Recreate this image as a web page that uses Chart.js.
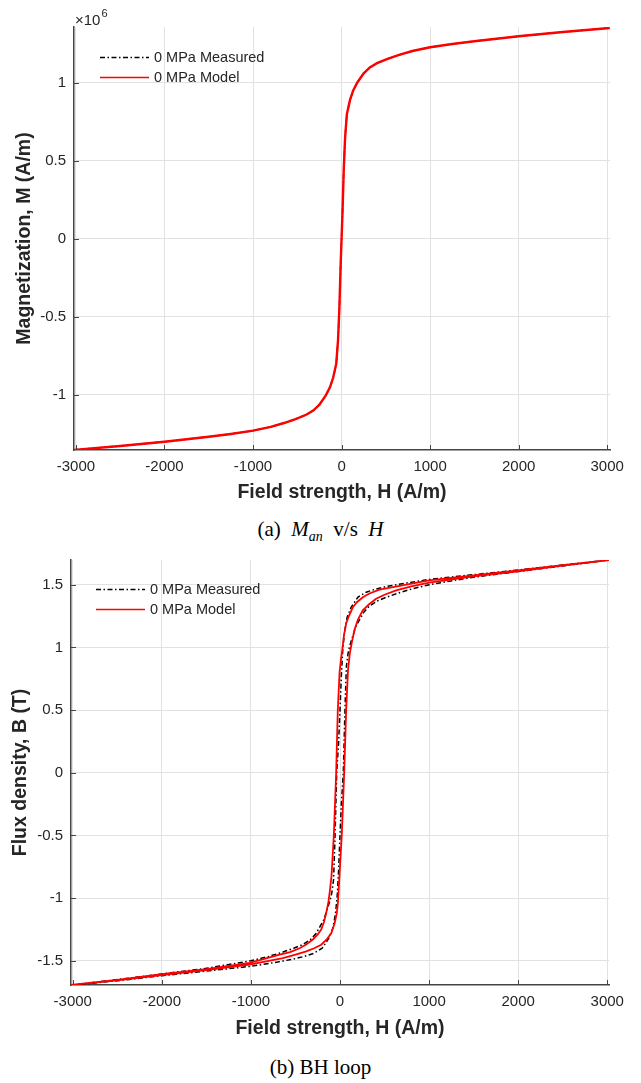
<!DOCTYPE html>
<html>
<head>
<meta charset="utf-8">
<script src="https://cdn.jsdelivr.net/npm/chart.js@4.4.1/dist/chart.umd.min.js"></script>
<style>
  body { margin: 0; background: #fff; }
  #page { position: relative; width: 641px; height: 1083px; }
  canvas { position: absolute; left: 0; }
  .caption { position: absolute; left: 0; width: 641px; text-align: center; line-height: 26px;
             font-family: "Liberation Serif", "DejaVu Serif", serif; font-size: 21px; color: #000; }
  .caption i sub { font-size: 14px; }
</style>
</head>
<body>
<div id="page">
  <canvas id="manChart" width="641" height="510" style="top:0"></canvas>
  <div class="caption" style="top:516px">(a) &nbsp;<i>M<sub>an</sub></i> &nbsp;v/s &nbsp;<i>H</i></div>
  <canvas id="bhChart" width="641" height="505" style="top:540px"></canvas>
  <div class="caption" style="top:1054px">(b) BH loop</div>
</div>
<script>
// ---- (a) anhysteretic magnetisation, M in units of 10^6 A/m
const manH = [-3030, -2500, -2000, -1500, -1250, -1000, -800, -650, -520, -400, -320, -250, -180, -130, -95, -60, -40, -25, -10, 0,
              10, 25, 40, 60, 95, 130, 180, 250, 320, 400, 520, 650, 800, 1000, 1250, 1500, 2000, 2500, 3030];
const manModel = [-1.353, -1.327, -1.30, -1.268, -1.25, -1.229, -1.205, -1.18, -1.155, -1.127, -1.10, -1.062, -1.005, -0.95, -0.89, -0.80, -0.65, -0.45, -0.16, 0,
                  0.16, 0.45, 0.65, 0.80, 0.89, 0.95, 1.005, 1.062, 1.10, 1.127, 1.155, 1.18, 1.205, 1.229, 1.25, 1.268, 1.30, 1.327, 1.353];
const manMeasured = manModel; // hidden under the model curve in the figure
const manTicksY = [-1, -0.5, 0, 0.5, 1];

// ---- (b) BH loop, descending branch (from +Hmax) and ascending branch (from -Hmax)
const modelDownH = [3025, 2500, 2000, 1500, 1000, 700, 443, 330, 256, 190, 144, 100, 69, 45, 25, 10, -5, -25, -43, -69, -95, -115, -130, -155, -180, -211, -250, -305, -380, -454, -560, -678, -850, -1015, -1500, -2000, -2500, -3025];
const modelDownB = [1.697, 1.655, 1.615, 1.575, 1.534, 1.494, 1.46, 1.43, 1.40, 1.36, 1.32, 1.25, 1.19, 1.10, 0.977, 0.90, 0.80, 0.494, 0, -0.494, -0.82, -0.95, -1.03, -1.12, -1.19, -1.25, -1.29, -1.33, -1.37, -1.40, -1.43, -1.45, -1.485, -1.517, -1.567, -1.607, -1.652, -1.693];
const modelUpH = [-3025, -2500, -2000, -1500, -1015, -800, -641, -500, -379, -290, -211, -150, -99, -60, -36, -25, -12, 0, 20, 47, 69, 90, 110, 130, 163, 200, 256, 320, 405, 500, 630, 800, 1003, 1500, 2000, 2500, 3025];
const modelUpB = [-1.693, -1.655, -1.615, -1.575, -1.531, -1.50, -1.478, -1.45, -1.425, -1.40, -1.372, -1.33, -1.28, -1.20, -1.12, -1.05, -0.90, -0.75, -0.494, 0, 0.494, 0.82, 0.95, 1.03, 1.14, 1.22, 1.295, 1.34, 1.388, 1.42, 1.455, 1.487, 1.516, 1.567, 1.607, 1.652, 1.697];

const measDownH = [3025, 2500, 2000, 1500, 1000, 700, 518, 400, 294, 200, 125, 80, 50, 30, 15, 0, -15, -37, -50, -60, -72, -90, -105, -130, -180, -219, -267, -330, -417, -520, -641, -800, -1000, -1500, -2000, -2500, -3025];
const measDownB = [1.697, 1.657, 1.617, 1.580, 1.542, 1.508, 1.485, 1.465, 1.44, 1.40, 1.32, 1.24, 1.12, 0.97, 0.77, 0.5, 0.25, 0, -0.35, -0.6, -0.85, -0.95, -1.0, -1.06, -1.17, -1.22, -1.28, -1.33, -1.37, -1.40, -1.43, -1.465, -1.50, -1.56, -1.605, -1.65, -1.695];
const measUpH = [-3025, -2500, -2000, -1500, -1000, -700, -518, -400, -294, -200, -125, -80, -50, -30, -15, 0, 15, 37, 50, 60, 72, 90, 105, 130, 180, 219, 267, 330, 417, 520, 641, 800, 1003, 1500, 2000, 2500, 3025];
const measUpB = [-1.695, -1.659, -1.619, -1.582, -1.544, -1.51, -1.485, -1.465, -1.44, -1.40, -1.32, -1.24, -1.12, -0.97, -0.77, -0.5, -0.25, 0, 0.35, 0.6, 0.85, 0.95, 1.0, 1.06, 1.17, 1.22, 1.28, 1.33, 1.37, 1.40, 1.43, 1.465, 1.50, 1.56, 1.605, 1.65, 1.697];
const bhTicksY = [-1.5, -1, -0.5, 0, 0.5, 1, 1.5];

const ticksX = [-3000, -2000, -1000, 0, 1000, 2000, 3000];

const INK = '#262626';
const GRID = '#e2e2e2';
const SANS = '"Liberation Sans", Arial, Helvetica, sans-serif';

function toPoints(hs, vs) {
    return hs.map((h, i) => ({ x: h, y: vs[i] }));
}

// MATLAB style: short tick marks pointing into the axes
const inwardTicks = {
    id: 'inwardTicks',
    afterDatasetsDraw(chart) {
        const { ctx, chartArea: a, scales: { x, y } } = chart;
        ctx.save();
        ctx.strokeStyle = '#444';
        ctx.lineWidth = 1;
        x.ticks.forEach(t => {
            const px = Math.round(x.getPixelForValue(t.value)) + 0.5;
            ctx.beginPath(); ctx.moveTo(px, a.bottom); ctx.lineTo(px, a.bottom - 5); ctx.stroke();
        });
        y.ticks.forEach(t => {
            const py = Math.round(y.getPixelForValue(t.value)) + 0.5;
            ctx.beginPath(); ctx.moveTo(a.left, py); ctx.lineTo(a.left + 5, py); ctx.stroke();
        });
        ctx.restore();
    }
};

// legend drawn inside the plot box, top left
const insideLegend = {
    id: 'insideLegend',
    afterDraw(chart, args, opts) {
        const ctx = chart.ctx;
        ctx.save();
        opts.labels.forEach((label, i) => {
            const ds = chart.data.datasets[i];
            const yy = opts.y + i * opts.rowGap + 0.5;
            ctx.strokeStyle = ds.borderColor;
            ctx.lineWidth = 1.3;
            ctx.setLineDash(ds.borderDash || []);
            ctx.beginPath(); ctx.moveTo(opts.x, yy); ctx.lineTo(opts.x + 49, yy); ctx.stroke();
            ctx.setLineDash([]);
            ctx.fillStyle = INK;
            ctx.font = '14.5px ' + SANS;
            ctx.textBaseline = 'middle';
            ctx.fillText(label, opts.x + 54, yy);
        });
        ctx.restore();
    }
};

// "x10^6" exponent above the y axis
const axisExponent = {
    id: 'axisExponent',
    afterDraw(chart, args, opts) {
        if (!opts.show) return;
        const ctx = chart.ctx;
        const a = chart.chartArea;
        ctx.save();
        ctx.fillStyle = INK;
        ctx.textBaseline = 'alphabetic';
        ctx.font = '15px ' + SANS;
        ctx.fillText('\u00d710', a.left + 1, a.top - 2);
        const w = ctx.measureText('\u00d710').width;
        ctx.font = '11px ' + SANS;
        ctx.fillText('6', a.left + 2 + w, a.top - 10);
        ctx.restore();
    }
};

function makeChart(canvasId, cfg) {
    const ctx = document.getElementById(canvasId).getContext('2d');
    return new Chart(ctx, {
        type: 'scatter',
        data: { datasets: cfg.datasets },
        options: {
            responsive: false,
            animation: false,
            layout: { padding: cfg.padding },
            elements: { point: { radius: 0, hoverRadius: 0 }, line: { tension: 0 } },
            plugins: {
                legend: { display: false },
                tooltip: { enabled: false },
                insideLegend: cfg.legend,
                axisExponent: { show: cfg.exponent }
            },
            scales: {
                x: {
                    type: 'linear',
                    min: cfg.xMin, max: cfg.xMax,
                    afterBuildTicks: s => { s.ticks = ticksX.map(v => ({ value: v })); },
                    afterFit: s => { s.height = cfg.xHeight; },
                    ticks: { color: INK, font: { family: SANS, size: 15 }, padding: 8, maxRotation: 0,
                             callback: v => String(v) },
                    grid: { color: GRID, lineWidth: 1, drawTicks: false },
                    border: { display: true, color: '#444', width: 1.5 },
                    title: { display: true, text: 'Field strength, H (A/m)', color: INK,
                             font: { family: SANS, size: 19.5, weight: 'bold' }, padding: { top: 0, bottom: cfg.xTitlePad } }
                },
                y: {
                    type: 'linear',
                    min: cfg.yMin, max: cfg.yMax,
                    afterBuildTicks: s => { s.ticks = cfg.yTicks.map(v => ({ value: v })); },
                    afterFit: s => { s.width = cfg.yWidth; },
                    ticks: { color: INK, font: { family: SANS, size: 15 }, padding: 8,
                             callback: v => String(v) },
                    grid: { color: GRID, lineWidth: 1, drawTicks: false },
                    border: { display: true, color: '#444', width: 1.5 },
                    title: { display: true, text: cfg.yTitle, color: INK,
                             font: { family: SANS, size: 19.5, weight: 'bold' }, padding: { top: cfg.yTitlePad, bottom: 0 } }
                }
            }
        },
        plugins: [inwardTicks, insideLegend, axisExponent]
    });
}

makeChart('manChart', {
    datasets: [
        { label: '0 MPa Measured', data: toPoints(manH, manMeasured), showLine: true,
          borderColor: '#000', borderWidth: 1.5, borderDash: [5, 2.5, 1.5, 2.5], order: 1 },
        { label: '0 MPa Model', data: toPoints(manH, manModel), showLine: true,
          borderColor: '#ff0000', borderWidth: 2.4, order: 0 }
    ],
    padding: { top: 27, right: 31, left: 0, bottom: 0 },
    xMin: -3022, xMax: 3032, xHeight: 60, xTitlePad: 6,
    yMin: -1.353, yMax: 1.359, yTicks: manTicksY, yWidth: 74, yTitlePad: 13,
    yTitle: 'Magnetization, M (A/m)',
    legend: { x: 100, y: 57, rowGap: 20, labels: ['0 MPa Measured', '0 MPa Model'] },
    exponent: true
});

makeChart('bhChart', {
    datasets: [
        { label: '0 MPa Measured', data: toPoints(measDownH.concat(measUpH), measDownB.concat(measUpB)), showLine: true,
          borderColor: '#000', borderWidth: 1.5, borderDash: [5, 2.5, 1.5, 2.5], order: 1 },
        { label: '0 MPa Model', data: toPoints(modelDownH.concat(modelUpH), modelDownB.concat(modelUpB)), showLine: true,
          borderColor: '#ff0000', borderWidth: 1.8, order: 0 }
    ],
    padding: { top: 20, right: 32, left: 0, bottom: 0 },
    xMin: -3020, xMax: 3020, xHeight: 60, xTitlePad: 5,
    yMin: -1.693, yMax: 1.697, yTicks: bhTicksY, yWidth: 71, yTitlePad: 9,
    yTitle: 'Flux density, B (T)',
    legend: { x: 96, y: 49, rowGap: 20, labels: ['0 MPa Measured', '0 MPa Model'] },
    exponent: false
});
</script>
</body>
</html>
